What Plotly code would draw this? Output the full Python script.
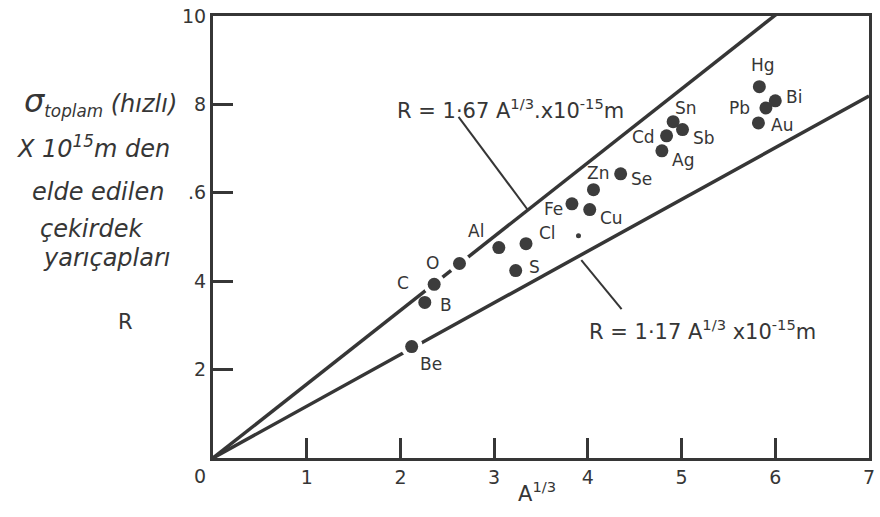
import plotly.graph_objects as go

# Measured nuclear radii (x10^-15 m) against A^(1/3)
elements = ["Be", "B", "C", "O", "Al", "S", "Cl", "Fe", "Cu", "Zn", "Se",
            "Ag", "Cd", "Sn", "Sb", "Au", "Hg", "Pb", "Bi"]
a_third = [2.12, 2.26, 2.36, 2.63, 3.05, 3.23, 3.34, 3.83, 4.02, 4.06, 4.35,
           4.79, 4.84, 4.91, 5.01, 5.82, 5.83, 5.90, 6.00]
radius = [2.52, 3.52, 3.93, 4.40, 4.76, 4.24, 4.85, 5.75, 5.62, 6.07, 6.43,
          6.95, 7.29, 7.61, 7.43, 7.58, 8.40, 7.92, 8.08]
# label offsets in pixels (right, down) from each point
label_dx = [19, 21, -31, -27, -23, 19, 21, -18, 22, 5, 21, 21, -23, 13, 21, 24, 4, -26, 19]
label_dy = [17, 3, -1, -1, -17, -4, -11, 5, 8, -17, 5, 9, 1, -14, 8, 2, -22, 0, -4]

# unlabelled small dot
dot_x = [3.90]
dot_y = [5.03]

# fitted lines R = r0 * A^(1/3)
r0_upper = 1.67
r0_lower = 1.17
line_x = [0, 7]

x_ticks = [1, 2, 3, 4, 5, 6, 7]
y_ticks = [2, 4, 6, 8, 10]
y_ticktext = ["2", "4", ".6", "8", "10"]

INK = "#363636"
FONT = "DejaVu Sans"

W, H = 880, 517
L, R_, T, B = 213, 5, 15, 59
PW, PH = W - L - R_, H - T - B


def px(x, y):
    """Pixel position -> paper coordinates."""
    return (x - L) / PW, (H - B - y) / PH


fig = go.Figure()

for r0 in (r0_upper, r0_lower):
    fig.add_trace(go.Scatter(
        x=line_x, y=[r0 * v for v in line_x], mode="lines",
        line=dict(color=INK, width=3.5), hoverinfo="skip", showlegend=False))

# points lying on a line sit in a small white gap cut into that line
on_line = {"Be", "C", "O"}
halo_x = [x for e, x in zip(elements, a_third) if e in on_line]
halo_y = [y for e, y in zip(elements, radius) if e in on_line]
fig.add_trace(go.Scatter(
    x=halo_x, y=halo_y, mode="markers",
    marker=dict(size=22, color="white"), hoverinfo="skip", showlegend=False))

fig.add_trace(go.Scatter(
    x=a_third, y=radius, mode="markers",
    marker=dict(size=13, color="#3c3c3c"),
    text=elements, showlegend=False))
fig.add_trace(go.Scatter(
    x=dot_x, y=dot_y, mode="markers",
    marker=dict(size=5, color="#3c3c3c"), showlegend=False))

for e, x, y, dx, dy in zip(elements, a_third, radius, label_dx, label_dy):
    fig.add_annotation(x=x, y=y, text=e, showarrow=False,
                       xshift=dx, yshift=-dy,
                       font=dict(family=FONT, size=17, color=INK))

# equations with leader lines
fig.add_annotation(x=3.17, y=7.90, showarrow=False,
                   text="R = 1·67 A<sup>1/3</sup>.x10<sup>-15</sup>m",
                   font=dict(family=FONT, size=21, color=INK))
fig.add_annotation(x=5.22, y=2.89, showarrow=False,
                   text="R = 1·17 A<sup>1/3</sup> x10<sup>-15</sup>m",
                   font=dict(family=FONT, size=21, color=INK))
fig.add_shape(type="line", x0=2.62, y0=7.72, x1=3.36, y1=r0_upper * 3.36,
              line=dict(color=INK, width=2))
fig.add_shape(type="line", x0=3.93, y0=r0_lower * 3.93 - 0.12, x1=4.36, y1=3.37,
              line=dict(color=INK, width=2))


def paper_text(txt, cx, cy, size, italic=False):
    xp, yp = px(cx, cy)
    fig.add_annotation(xref="paper", yref="paper", x=xp, y=yp,
                       xanchor="center", yanchor="middle",
                       text=f"<i>{txt}</i>" if italic else txt,
                       showarrow=False,
                       font=dict(family=FONT, size=size, color=INK))


# y-axis caption
caption = [
    ('<span style="font-size:32px">σ</span><sub>toplam</sub> (hızlı)', 99, 101),
    ("X 10<sup>15</sup>m den", 92, 146),
    ("elde edilen", 97, 191),
    ("çekirdek", 90, 228),
    ("yarıçapları", 106, 258),
]
for txt, cx, cy in caption:
    paper_text(txt, cx, cy, 24, italic=True)

paper_text("R", 125, 322, 21)
paper_text("0", 200, 476, 19)
paper_text("A<sup>1/3</sup>", 540, 492, 21)

axis_common = dict(showgrid=False, zeroline=False, showline=True,
                   linecolor=INK, linewidth=3, mirror=True,
                   ticks="inside", ticklen=20, tickwidth=2.5, tickcolor=INK,
                   tickfont=dict(family=FONT, size=19, color=INK))

fig.update_layout(
    width=W, height=H,
    margin=dict(l=L, r=R_, t=T, b=B),
    paper_bgcolor="white", plot_bgcolor="white",
    xaxis=dict(range=[0, 7], tickvals=x_ticks, **axis_common),
    yaxis=dict(range=[0, 10], tickvals=y_ticks, ticktext=y_ticktext,
               **axis_common),
    showlegend=False,
)

fig.write_html("out.html")
